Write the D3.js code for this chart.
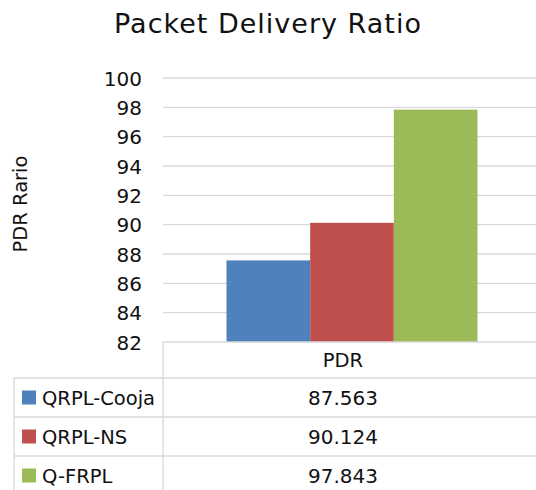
<!DOCTYPE html>
<html>
<head>
<meta charset="utf-8">
<script src="https://cdn.jsdelivr.net/npm/d3@7"></script>
<style>
  body { margin: 0; background: #fff; }
  text { font-family: "DejaVu Sans", sans-serif; fill: #111; }
</style>
</head>
<body>
<svg id="chart"></svg>
<script>
const categories = ["PDR"];
const seriesNames = ["QRPL-Cooja", "QRPL-NS", "Q-FRPL"];
const seriesValues = [87.563, 90.124, 97.843];
const seriesColors = ["#4F81BD", "#C0504D", "#9BBB59"];
const yTicks = [82, 84, 86, 88, 90, 92, 94, 96, 98, 100];

const width = 536, height = 490;
const plot = { left: 163, right: 541, top: 78, bottom: 342 };
const rowH = 39;

const svg = d3.select("#chart")
  .attr("width", width)
  .attr("height", height);

const y = d3.scaleLinear().domain([82, 100]).range([plot.bottom, plot.top]);
const x0 = d3.scaleBand().domain(categories).range([plot.left, plot.right]).paddingOuter(0.253).paddingInner(0);
const x1 = d3.scaleBand().domain(seriesNames).range([0, x0.bandwidth()]).padding(0);

// title
svg.append("text")
  .attr("x", 268).attr("y", 33)
  .attr("text-anchor", "middle")
  .style("font-size", "27px")
  .style("letter-spacing", "1px")
  .text("Packet Delivery Ratio");

// y label
svg.append("text")
  .attr("transform", "translate(27,204) rotate(-90)")
  .attr("text-anchor", "middle")
  .style("font-size", "19.5px")
  .text("PDR Rario");

// gridlines
svg.append("g")
  .selectAll("line")
  .data(yTicks.slice(1))
  .enter().append("line")
  .attr("x1", plot.left).attr("x2", width)
  .attr("y1", d => y(d)).attr("y2", d => y(d))
  .attr("stroke", "#D9D9D9").attr("stroke-width", 1.3);

// y axis labels
const yAxis = d3.axisLeft(y).tickValues(yTicks).tickSize(0).tickPadding(0);
const ya = svg.append("g").attr("transform", `translate(${plot.left - 21},0)`).call(yAxis);
ya.select(".domain").remove();
ya.selectAll("text").style("font-size", "20px").attr("font-family", null).attr("dy", "0.36em");

// bars
svg.append("g")
  .selectAll("rect")
  .data(seriesNames)
  .enter().append("rect")
  .attr("x", (d, i) => x0("PDR") + x1(d))
  .attr("width", x1.bandwidth())
  .attr("y", (d, i) => y(seriesValues[i]))
  .attr("height", (d, i) => y(82) - y(seriesValues[i]))
  .attr("fill", (d, i) => seriesColors[i]);

// data table
const tbl = svg.append("g");
const line = (xa, ya_, xb, yb) => tbl.append("line")
  .attr("x1", xa).attr("y1", ya_).attr("x2", xb).attr("y2", yb)
  .attr("stroke", "#D9D9D9").attr("stroke-width", 1.3);

const tableTop = plot.bottom;
const tableLeft = 14;
const colCenter = (plot.left + 523) / 2;

line(plot.left, tableTop, width, tableTop);
line(plot.left, tableTop, plot.left, height);
line(tableLeft, tableTop + rowH - 3, tableLeft, height);
seriesNames.forEach((s, i) => {
  line(tableLeft, tableTop + rowH - 3 + i * rowH, width, tableTop + rowH - 3 + i * rowH);
});

tbl.append("text")
  .attr("x", colCenter).attr("y", tableTop + (rowH - 3) / 2)
  .attr("dy", "0.36em").attr("text-anchor", "middle")
  .style("font-size", "19.5px")
  .text(categories[0]);

seriesNames.forEach((s, i) => {
  const cy = tableTop + rowH - 3 + i * rowH + rowH / 2;
  tbl.append("rect")
    .attr("x", 22).attr("y", cy - 7).attr("width", 14).attr("height", 14)
    .attr("fill", seriesColors[i]);
  tbl.append("text")
    .attr("x", 42).attr("y", cy).attr("dy", "0.36em")
    .style("font-size", "19.5px")
    .text(s);
  tbl.append("text")
    .attr("x", colCenter).attr("y", cy).attr("dy", "0.36em")
    .attr("text-anchor", "middle")
    .style("font-size", "20px")
    .text(d3.format(".3f")(seriesValues[i]));
});
</script>
</body>
</html>
